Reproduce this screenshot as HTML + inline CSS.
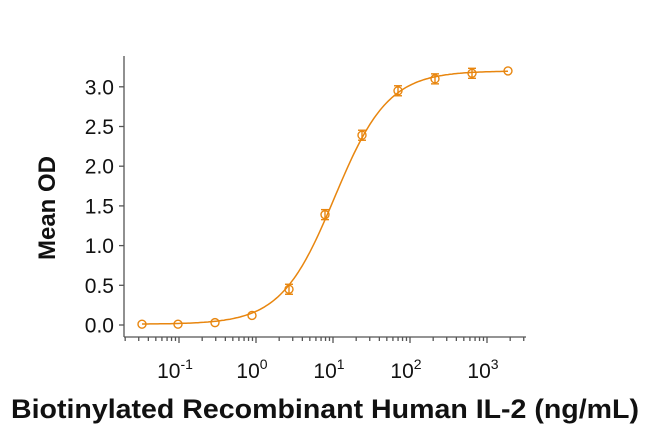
<!DOCTYPE html><html><head><style>body{margin:0;background:#fff}svg{display:block}</style></head><body>
<svg id="s" width="650" height="426" xmlns="http://www.w3.org/2000/svg" font-family="Liberation Sans, sans-serif">
<g stroke="#555" stroke-width="1.3" fill="none">
<line x1="124" y1="56" x2="124" y2="337"/>
<line x1="124" y1="337" x2="526" y2="337"/>
<g id="yt"></g><g id="xt"></g>
</g>
<g id="yl" font-size="21" fill="#111" text-anchor="end"></g>
<g font-size="21" fill="#111" text-anchor="middle">
<text x="175" y="378">10<tspan dy="-9" font-size="14">-1</tspan></text>
<text x="252" y="378">10<tspan dy="-9" font-size="14">0</tspan></text>
<text x="329" y="378">10<tspan dy="-9" font-size="14">1</tspan></text>
<text x="406" y="378">10<tspan dy="-9" font-size="14">2</tspan></text>
<text x="483" y="378">10<tspan dy="-9" font-size="14">3</tspan></text>
</g>
<text x="325" y="418" font-size="27" font-weight="bold" text-anchor="middle" fill="#111" textLength="628" lengthAdjust="spacingAndGlyphs">Biotinylated Recombinant Human IL-2 (ng/mL)</text>
<text transform="translate(55,208) rotate(-90)" font-size="24" font-weight="bold" text-anchor="middle" fill="#111">Mean OD</text>
<path id="c" fill="none" stroke="#e8860f" stroke-width="1.5"/>
<g id="p" fill="none" stroke="#e8860f" stroke-width="1.4"></g>
</svg>
<script>
var ns="http://www.w3.org/2000/svg";
function el(p,t,a){var e=document.createElementNS(ns,t);for(var k in a)e.setAttribute(k,a[k]);document.getElementById(p).appendChild(e);return e;}
["0.0","0.5","1.0","1.5","2.0","2.5","3.0"].forEach(function(v,i){var y=325-i*39.7;var t=el("yl","text",{x:114,y:y+7.5});t.textContent=v;el("yt","line",{x1:119,x2:124,y1:y,y2:y});});
function X(l){return 256+l*77;}
for(var d=-2;d<=3;d++)for(var m=1;m<10;m++){var x=X(d+Math.log10(m));if(x<124||x>526)continue;el("xt","line",{x1:x,x2:x,y1:337,y2:m==1?343:341});}
function F(l){var z=2.87*(l-1.02);return 0.01+3.19/(1+Math.exp(-z));}
var d="";for(var x=142;x<=508;x+=2){var l=(x-256)/77;var y=325-F(l)*79.4;d+=(x==142?"M":"L")+x+","+y.toFixed(1);}
document.getElementById("c").setAttribute("d",d);
var px=[142,178,215,252,289,325,362,398,435,472,508],pv=[0.01,0.01,0.03,0.12,0.45,1.39,2.39,2.95,3.10,3.17,3.20];
px.forEach(function(x,i){var y=325-pv[i]*79.4;el("p","circle",{cx:x,cy:y,r:4});if(i>=4&&i<10){el("p","line",{x1:x-4,x2:x+4,y1:y-5,y2:y-5});el("p","line",{x1:x-4,x2:x+4,y1:y+5,y2:y+5});el("p","line",{x1:x,x2:x,y1:y-5,y2:y+5});}});
</script>
</body></html>
